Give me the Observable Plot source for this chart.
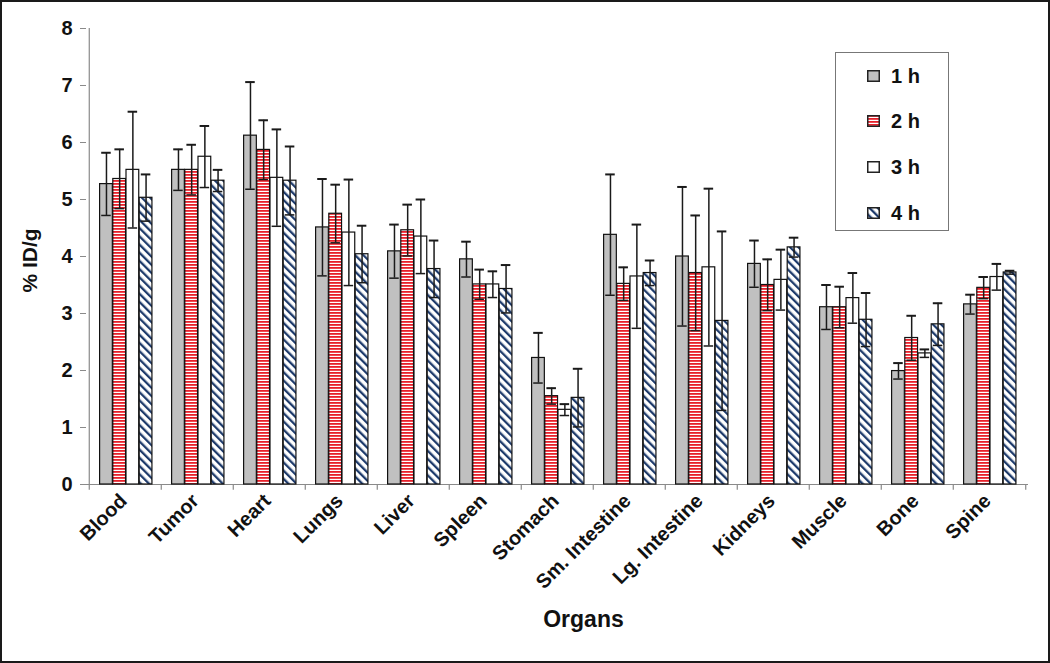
<!DOCTYPE html>
<html><head><meta charset="utf-8">
<script src="https://cdn.jsdelivr.net/npm/d3@7"></script>
<script src="https://cdn.jsdelivr.net/npm/@observablehq/plot@0.6"></script>
<style>
body{margin:0;background:#fff;}
#wrap{position:relative;width:1050px;height:663px;overflow:hidden;font-family:"Liberation Sans",Arial,sans-serif;background:#fff;}
#border{position:absolute;left:0;top:0;width:1050px;height:663px;border:2px solid #1a1a1a;box-sizing:border-box;pointer-events:none;}
#legend{position:absolute;left:835px;top:52px;width:114px;height:179px;border:1px solid #777;box-sizing:border-box;background:#fff;}
.item{position:absolute;left:31px;height:24px;display:flex;align-items:center;font-weight:bold;font-size:20px;color:#111;}
.item svg{margin-right:11px;display:block}
#defs{position:absolute;width:0;height:0;left:0;top:0;}
</style></head>
<body>
<svg id="defs" width="0" height="0">
  <defs>
    <pattern id="p2" patternUnits="userSpaceOnUse" width="6" height="3">
      <rect width="6" height="3" fill="#ffffff"/>
      <rect width="6" height="1.8" fill="#e8202a"/>
    </pattern>
    <pattern id="p4" patternUnits="userSpaceOnUse" width="5.8" height="5.8" patternTransform="rotate(-45)">
      <rect width="5.8" height="5.8" fill="#ffffff"/>
      <rect width="2.3" height="5.8" fill="#1d3a6b"/>
    </pattern>
  </defs>
</svg>
<div id="wrap"></div>
<script>
// ---- data ----
const organs = ["Blood","Tumor","Heart","Lungs","Liver","Spleen","Stomach","Sm. Intestine","Lg. Intestine","Kidneys","Muscle","Bone","Spine"];
const hours = ["1 h","2 h","3 h","4 h"];
const mean1h = [5.27,5.52,6.12,4.51,4.09,3.95,2.22,4.38,4.00,3.87,3.11,1.99,3.16];
const err1h  = [0.55,0.36,0.94,0.85,0.47,0.31,0.44,1.06,1.22,0.41,0.39,0.14,0.17];
const mean2h = [5.36,5.52,5.87,4.75,4.46,3.51,1.55,3.52,3.71,3.50,3.11,2.57,3.45];
const err2h  = [0.52,0.44,0.52,0.51,0.45,0.26,0.14,0.29,1.01,0.45,0.36,0.39,0.19];
const mean3h = [5.52,5.75,5.38,4.42,4.35,3.51,1.31,3.65,3.81,3.59,3.27,2.30,3.64];
const err3h  = [1.02,0.54,0.85,0.93,0.65,0.23,0.10,0.91,1.38,0.53,0.44,0.07,0.23];
const mean4h = [5.03,5.33,5.33,4.04,3.78,3.43,1.52,3.71,2.87,4.16,2.89,2.81,3.72];
const err4h  = [0.41,0.19,0.60,0.50,0.50,0.42,0.51,0.22,1.57,0.17,0.47,0.37,0.03];
const yTicks = [0,1,2,3,4,5,6,7,8];

// ---- styling ----
const fills = ["#c0c0c0","url(#p2)","#ffffff","url(#p4)"];
const W = 1050, H = 663, mL = 86, mR = 22, mT = 28, mB = 179;
const bw = (W - mL - mR) / organs.length;
const barOffset = 10.6, barW = 13.2, capW = 10;

const means = [mean1h, mean2h, mean3h, mean4h];
const errs = [err1h, err2h, err3h, err4h];
const series = hours.map((h, j) => organs.map((o, i) => ({organ: o, hour: h, value: means[j][i], err: errs[j][i]})));

const marks = [];
// axis lines
marks.push(Plot.ruleX([organs[0]], {x: d => d, dx: -bw / 2, stroke: "#8a8a8a", strokeWidth: 1.2}));
marks.push(Plot.ruleY([0], {stroke: "#8a8a8a", strokeWidth: 1.2}));
marks.push(Plot.ruleX(organs, {x: d => d, dx: -bw / 2, y1: 0, y2: -0.1, stroke: "#8a8a8a", strokeWidth: 1.2}));
marks.push(Plot.ruleX([organs[organs.length - 1]], {x: d => d, dx: bw / 2, y1: 0, y2: -0.1, stroke: "#8a8a8a", strokeWidth: 1.2}));

series.forEach((dj, j) => {
  const left = barOffset + barW * j;
  const right = bw - left - barW;
  marks.push(Plot.barY(dj, {x: "organ", y: "value", fill: fills[j], stroke: "#111", strokeWidth: 1.2, insetLeft: left, insetRight: right}));
});
series.forEach((dj, j) => {
  const left = barOffset + barW * j;
  const right = bw - left - barW;
  const center = left + barW / 2 - bw / 2;
  const cl = left + (barW - capW) / 2, cr = right + (barW - capW) / 2;
  marks.push(Plot.ruleX(dj, {x: "organ", y1: d => d.value - d.err, y2: d => d.value + d.err, dx: center, stroke: "#1a1a1a", strokeWidth: 1.5}));
  marks.push(Plot.tickY(dj, {x: "organ", y: d => d.value + d.err, insetLeft: cl, insetRight: cr, stroke: "#1a1a1a", strokeWidth: 2}));
  marks.push(Plot.tickY(dj, {x: "organ", y: d => d.value - d.err, insetLeft: cl, insetRight: cr, stroke: "#1a1a1a", strokeWidth: 1.5}));
});

marks.push(Plot.axisY({ticks: yTicks, tickSize: 6, tickPadding: 8, stroke: "#8a8a8a", fill: "#111", fontSize: 20, fontWeight: "bold", label: null}));
marks.push(Plot.axisX({tickSize: 0, tickRotate: -45, tickPadding: 13, dx: -2, fill: "#111", fontSize: 20, fontWeight: "bold", label: null}));
marks.push(Plot.text(["Organs"], {frameAnchor: "bottom", dx: 26, dy: 142, fontSize: 23, fontWeight: "bold", fill: "#111", textAnchor: "middle"}));
marks.push(Plot.text(["% ID/g"], {frameAnchor: "left", dx: -56, dy: 4, rotate: -90, fontSize: 21, fontWeight: "bold", fill: "#111", textAnchor: "middle"}));

const chart = Plot.plot({
  width: W, height: H,
  marginLeft: mL, marginRight: mR, marginTop: mT, marginBottom: mB,
  style: {fontFamily: "'Liberation Sans', Arial, sans-serif", background: "#fff", color: "#111", overflow: "visible"},
  x: {domain: organs, padding: 0},
  y: {domain: [0, 8]},
  marks
});
const wrap = document.getElementById("wrap");
wrap.appendChild(chart);

// legend
const legend = document.createElement("div");
legend.id = "legend";
const rowY = [23, 68, 114, 160];
hours.forEach((h, j) => {
  const it = document.createElement("div");
  it.className = "item";
  it.style.top = (rowY[j] - 12) + "px";
  it.innerHTML = `<svg width="13" height="12"><rect x="0.75" y="0.75" width="11.5" height="10.5" fill="${fills[j]}" stroke="#222" stroke-width="1.5"/></svg><span>${h}</span>`;
  legend.appendChild(it);
});
wrap.appendChild(legend);
const border = document.createElement("div");
border.id = "border";
wrap.appendChild(border);
</script>
</body></html>
